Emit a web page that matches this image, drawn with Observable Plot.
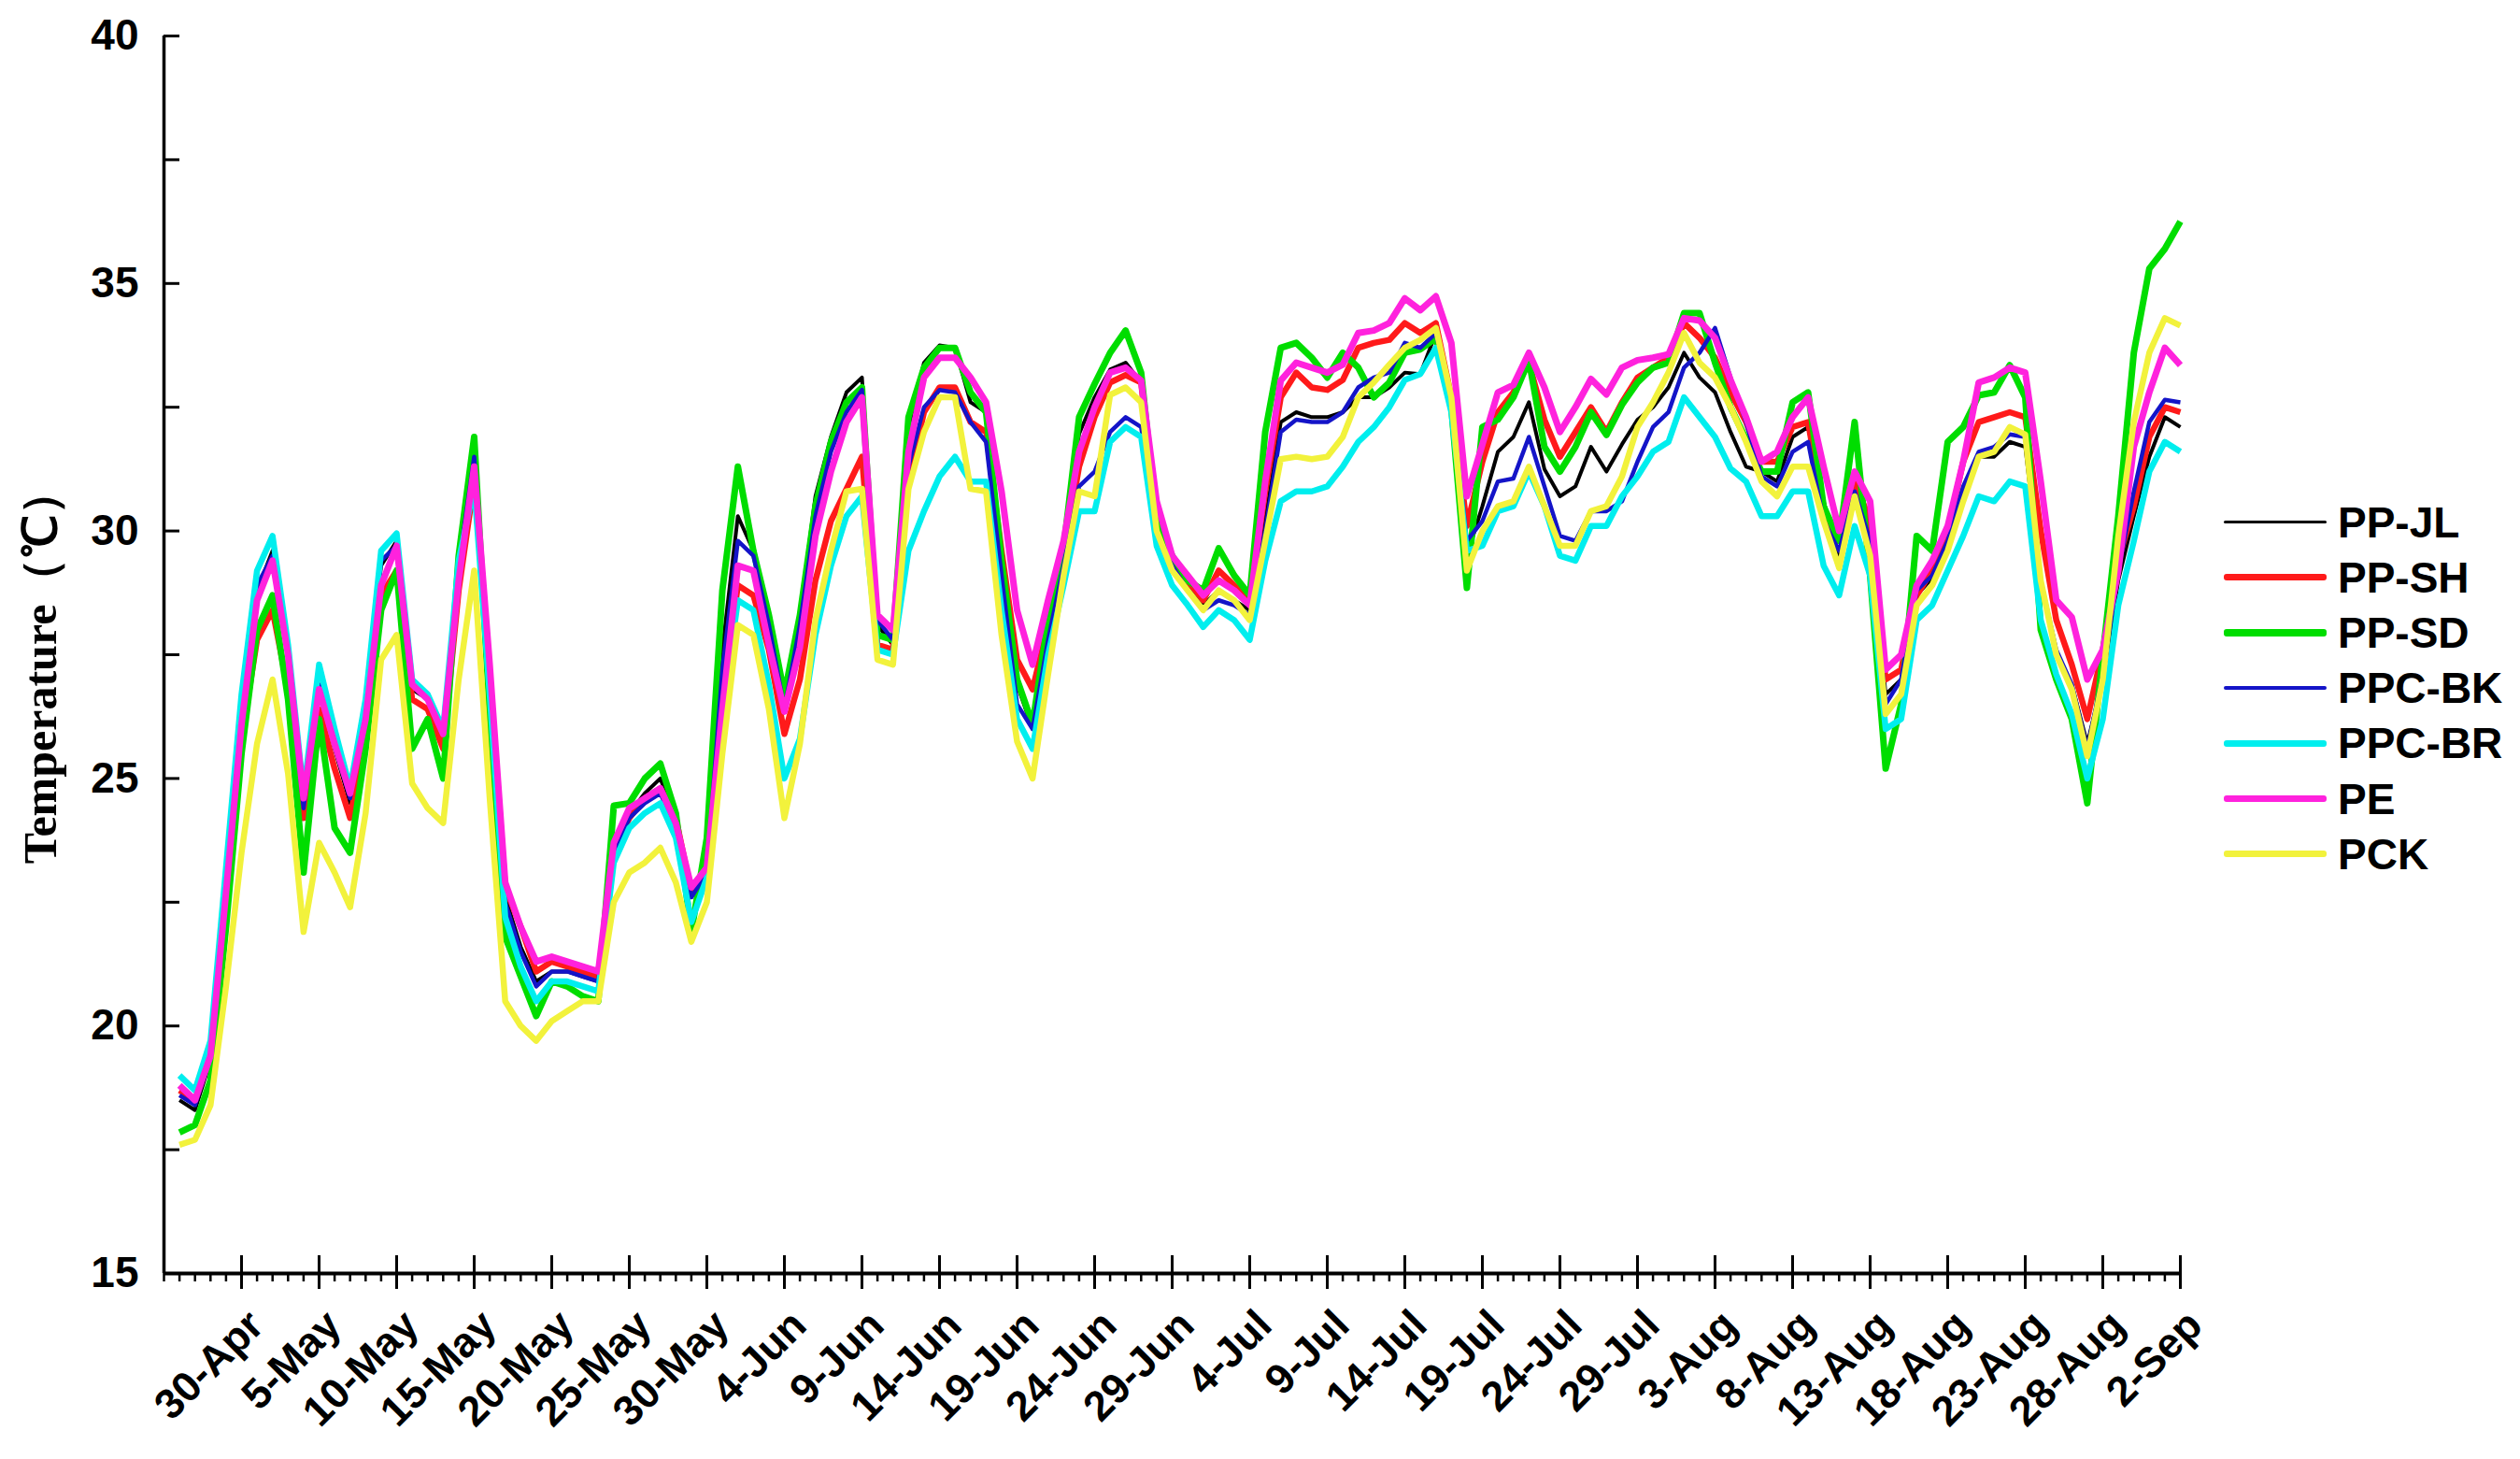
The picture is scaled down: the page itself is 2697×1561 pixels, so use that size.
<!DOCTYPE html>
<html>
<head>
<meta charset="utf-8">
<script src="https://cdn.jsdelivr.net/npm/d3@7"></script>
<script src="https://cdn.jsdelivr.net/npm/@observablehq/plot@0.6"></script>
<style>
  html, body { margin: 0; padding: 0; background: #fff; }
  #wrap { position: relative; width: 2697px; height: 1561px; overflow: hidden; background: #fff; }
  #legend { position: absolute; left: 2380px; top: 529px; font-family: "Liberation Sans", Arial, sans-serif; font-weight: bold; font-size: 46px; color: #000; }
  .row { display: flex; align-items: center; height: 59.2px; }
  .sw { width: 110px; margin-right: 12px; border-radius: 3px; }
</style>
</head>
<body>
<div id="wrap"><div id="legend"></div></div>
<script>
// ---------- data ----------
const seriesNames = ["PP-JL", "PP-SH", "PP-SD", "PPC-BK", "PPC-BR", "PE", "PCK"];
const firstDataDay = "26-Apr";
const xTickLabels = ["30-Apr","5-May","10-May","15-May","20-May","25-May","30-May","4-Jun","9-Jun","14-Jun","19-Jun","24-Jun","29-Jun","4-Jul","9-Jul","14-Jul","19-Jul","24-Jul","29-Jul","3-Aug","8-Aug","13-Aug","18-Aug","23-Aug","28-Aug","2-Sep"];
const yTickValues = [15, 20, 25, 30, 35, 40];
const yMinorTickValues = [15, 17.5, 20, 22.5, 25, 27.5, 30, 32.5, 35, 37.5, 40];

const ppJL = [
18.5,18.3,19.3,22.8,26.2,28.8,29.6,27.6,24.3,26.8,
25.6,24.5,26.3,29.3,29.8,26.8,26.6,25.8,29.2,31.4,
27.0,22.6,21.6,20.9,21.1,21.1,21.0,20.9,23.6,24.3,
24.7,25.0,24.2,22.6,23.2,27.6,30.3,29.6,28.3,26.6,
28.3,30.7,31.9,32.8,33.1,28.1,27.7,32.1,33.4,33.75,
33.7,32.6,32.4,29.5,26.9,26.0,28.0,29.65,31.96,32.7,
33.26,33.4,33.0,30.0,29.35,28.9,28.5,28.8,28.6,28.4,
30.2,32.2,32.4,32.3,32.3,32.4,32.7,32.7,32.9,33.2,
33.17,34.0,32.4,29.5,30.5,31.6,31.9,32.6,31.25,30.7,
30.9,31.7,31.2,31.75,32.25,32.5,32.9,33.6,33.1,32.8,
32.0,31.3,31.2,31.0,31.9,32.1,30.6,29.5,30.9,30.0,
26.7,27.0,28.7,29.05,29.7,30.8,31.5,31.5,31.8,31.7,
29.0,27.5,26.9,25.7,27.0,29.0,30.3,31.5,32.3,32.1];

const ppSH = [
18.7,18.5,19.4,22.6,25.8,27.8,28.4,26.8,24.2,26.4,
25.2,24.2,25.9,28.7,29.2,26.6,26.4,25.6,28.8,31.0,
27.1,22.8,22.0,21.1,21.3,21.2,21.1,21.0,23.5,24.2,
24.6,24.8,24.2,22.7,23.2,26.6,28.9,28.7,27.6,25.9,
27.0,29.0,30.2,30.85,31.5,27.7,27.6,31.0,32.4,32.9,
32.9,32.2,32.0,29.6,27.4,26.8,28.1,29.5,31.3,32.3,
33.0,33.15,33.0,30.1,29.4,29.0,28.6,29.2,28.9,28.6,
30.8,32.7,33.2,32.9,32.85,33.05,33.7,33.8,33.86,34.2,
34.0,34.2,32.7,30.1,31.4,32.4,32.8,33.4,32.25,31.5,
32.0,32.5,32.0,32.6,33.1,33.3,33.5,34.2,33.9,33.5,
32.8,32.2,31.4,31.4,32.1,32.2,30.4,29.8,31.0,30.2,
27.0,27.2,28.7,29.2,30.0,31.4,32.2,32.3,32.4,32.3,
30.0,28.2,27.3,26.2,27.6,29.4,30.5,31.9,32.5,32.4];

const ppSD = [
17.85,18.0,18.9,22.0,25.5,28.0,28.7,26.6,23.1,26.2,
24.0,23.5,25.6,28.4,29.2,25.6,26.2,25.0,29.5,31.9,
26.3,21.8,21.0,20.2,20.9,20.8,20.6,20.5,24.45,24.5,
25.0,25.3,24.3,21.9,23.8,28.8,31.3,29.6,28.3,26.7,
28.3,30.5,31.8,32.6,32.9,27.9,27.8,32.3,33.3,33.7,
33.7,32.8,32.4,29.4,27.0,26.1,28.2,29.65,32.3,32.97,
33.6,34.05,33.2,30.2,29.5,29.0,28.8,29.65,29.1,28.7,
32.0,33.7,33.8,33.5,33.1,33.6,33.3,32.7,33.0,33.6,
33.67,33.9,32.5,28.85,32.1,32.25,32.7,33.45,31.7,31.2,
31.7,32.4,31.94,32.55,33.0,33.3,33.4,34.4,34.4,33.4,
32.5,31.85,31.2,31.2,32.6,32.8,30.5,29.8,32.2,29.1,
25.2,26.5,29.9,29.6,31.8,32.1,32.74,32.8,33.35,32.7,
28.0,27.0,26.2,24.5,27.5,30.3,33.6,35.3,35.7,36.25];

const ppcBK = [
18.6,18.4,19.4,22.9,26.3,28.9,29.5,27.5,24.4,26.9,
25.7,24.6,26.4,29.4,29.7,26.9,26.6,25.9,29.3,31.5,
27.0,22.5,21.5,20.8,21.1,21.1,21.0,20.9,23.5,24.2,
24.5,24.7,24.0,22.6,23.1,27.2,29.8,29.5,28.1,26.4,
28.1,30.3,31.6,32.4,32.85,28.2,27.8,31.3,32.5,32.85,
32.8,32.2,31.8,29.1,26.5,26.0,27.8,29.3,30.9,31.2,
32.0,32.3,32.1,30.0,29.3,28.8,28.4,28.6,28.5,28.3,
30.0,32.0,32.25,32.2,32.2,32.4,32.9,33.1,33.2,33.8,
33.7,34.0,32.6,29.8,30.2,31.0,31.06,31.9,30.9,29.9,
29.8,30.4,30.4,30.6,31.4,32.1,32.4,33.3,33.6,34.1,
33.1,32.2,31.1,30.9,31.6,31.8,30.2,29.6,30.8,29.8,
26.5,27.0,28.8,29.1,29.8,30.9,31.6,31.7,31.95,31.9,
29.0,27.6,26.9,25.6,27.1,29.2,30.8,32.2,32.65,32.6];

const ppcBR = [
19.0,18.7,19.7,23.2,26.7,29.2,29.9,27.7,24.7,27.3,
26.0,24.8,26.6,29.6,29.95,27.0,26.7,26.0,29.4,30.9,
26.7,22.2,21.2,20.5,20.9,20.9,20.8,20.7,23.3,24.0,
24.3,24.5,23.8,22.1,23.0,26.3,28.6,28.4,26.9,25.0,
25.8,27.9,29.3,30.3,30.7,27.6,27.5,29.6,30.4,31.1,
31.5,31.0,31.0,28.4,26.2,25.6,27.5,28.9,30.4,30.4,
31.8,32.1,31.9,29.7,28.9,28.5,28.06,28.4,28.2,27.8,
29.4,30.6,30.8,30.8,30.9,31.3,31.8,32.1,32.5,33.05,
33.17,33.7,32.4,29.6,29.7,30.4,30.5,31.2,30.5,29.5,
29.4,30.1,30.1,30.7,31.1,31.6,31.8,32.7,32.3,31.9,
31.26,31.0,30.3,30.3,30.8,30.8,29.3,28.7,30.1,29.1,
26.0,26.2,28.2,28.5,29.2,29.9,30.7,30.6,31.0,30.9,
28.2,27.1,26.3,25.0,26.2,28.5,29.8,31.2,31.8,31.6];

const pe = [
18.8,18.5,19.4,22.7,26.1,28.6,29.4,27.5,24.6,26.8,
25.7,24.7,26.2,28.9,29.7,26.9,26.6,25.9,29.0,31.3,
27.3,22.9,22.0,21.3,21.4,21.3,21.2,21.1,23.7,24.4,
24.6,24.8,24.1,22.8,23.2,26.4,29.3,29.2,27.7,26.35,
27.65,29.9,31.2,32.2,32.7,28.3,28.0,31.6,33.1,33.5,
33.5,33.1,32.6,30.8,28.4,27.3,28.6,29.8,31.6,32.5,
33.2,33.3,33.04,30.6,29.5,29.1,28.7,29.0,28.8,28.5,
31.0,33.04,33.4,33.3,33.2,33.36,34.0,34.05,34.2,34.7,
34.46,34.74,33.8,30.7,31.75,32.8,32.95,33.6,32.9,32.0,
32.5,33.07,32.76,33.3,33.45,33.5,33.57,34.3,34.25,33.9,
33.05,32.3,31.4,31.6,32.3,32.7,31.3,30.0,31.2,30.6,
27.2,27.5,28.9,29.4,30.1,31.4,33.0,33.1,33.3,33.2,
31.0,28.6,28.26,27.0,27.6,29.2,31.7,32.8,33.7,33.35];

const pck = [
17.6,17.7,18.4,20.8,23.5,25.7,27.0,25.1,21.9,23.7,
23.1,22.4,24.3,27.4,27.9,24.9,24.4,24.1,27.0,29.2,
24.6,20.5,20.0,19.7,20.1,20.3,20.5,20.5,22.5,23.1,
23.3,23.6,22.9,21.7,22.5,25.5,28.1,27.9,26.4,24.2,
25.7,28.2,29.6,30.8,30.85,27.4,27.3,30.85,32.0,32.7,
32.7,30.85,30.8,27.9,25.75,25.0,27.1,29.1,30.8,30.7,
32.75,32.9,32.6,30.0,29.2,28.8,28.4,28.8,28.6,28.2,
29.8,31.45,31.5,31.45,31.5,31.9,32.7,33.0,33.36,33.7,
33.86,34.1,32.7,29.2,30.0,30.5,30.6,31.3,30.5,29.7,
29.7,30.4,30.5,31.1,32.1,32.6,33.2,34.0,33.4,33.1,
32.5,31.8,31.0,30.7,31.3,31.3,30.2,29.25,30.7,29.5,
26.3,26.7,28.5,28.9,29.6,30.6,31.5,31.6,32.1,31.95,
29.0,27.5,26.8,25.45,27.0,29.9,32.2,33.6,34.3,34.15];

// ---------- styling ----------
const seriesValues = [ppJL, ppSH, ppSD, ppcBK, ppcBR, pe, pck];
const seriesColors = ["#000000", "#ff1a1a", "#00dd00", "#1414c8", "#00eeee", "#ff22dd", "#f2f23c"];
const lineWidths = [4, 6.5, 7, 4.5, 6.5, 7, 6.5];
const legendWidths = [3.5, 7, 8, 4.5, 6.5, 7, 7];

const parseDay = s => d3.utcParse("%d-%b-%Y")(s + "-2019");
const majorTicks = xTickLabels.map(parseDay);
const axisStart = d3.utcDay.offset(majorTicks[0], -5);
const axisEnd = majorTicks[majorTicks.length - 1];
const dayTicks = d3.utcDay.range(axisStart, d3.utcDay.offset(axisEnd, 1));
const start = parseDay(firstDataDay);

const tables = seriesValues.map((vals, s) =>
  vals.map((v, i) => ({series: seriesNames[s], date: d3.utcDay.offset(start, i), value: v})));

const font = '"Liberation Sans", Arial, sans-serif';

const chart = Plot.plot({
  width: 2697,
  height: 1561,
  marginLeft: 175,
  marginRight: 364,
  marginTop: 38,
  marginBottom: 199,
  x: {type: "utc", domain: [axisStart, axisEnd]},
  y: {domain: [15, 40]},
  style: {background: "white", fontFamily: font, fontWeight: "bold", fontSize: "44px", color: "#000", overflow: "visible"},
  marks: [
    Plot.axisY({ticks: yTickValues, tickSize: 0, tickPadding: 27, label: null, fontSize: 46, fontWeight: "bold"}),
    Plot.axisY({ticks: yMinorTickValues, tickSize: 17, dx: 17, tickFormat: () => "", label: null, strokeWidth: 3}),
    Plot.axisX({ticks: dayTicks, tickSize: 9, tickFormat: () => "", label: null, strokeWidth: 2.5}),
    Plot.axisX({ticks: majorTicks, tickSize: 36, dy: -19, tickFormat: () => "", label: null, strokeWidth: 3}),
    Plot.text(majorTicks, {x: d => d, text: (d, i) => xTickLabels[i], frameAnchor: "bottom", dx: 26, dy: 58,
      rotate: -45, textAnchor: "end", lineAnchor: "bottom", fontSize: 45, fontWeight: "bold", fill: "#000"}),
    ...tables.map((t, s) => Plot.lineY(t, {x: "date", y: "value", stroke: seriesColors[s], strokeWidth: lineWidths[s],
      strokeLinejoin: "round", strokeLinecap: "butt"})),
    Plot.ruleX([axisStart], {stroke: "#000", strokeWidth: 3.5}),
    Plot.ruleY([15], {stroke: "#000", strokeWidth: 4}),
    Plot.text(["Temperature（℃）"], {frameAnchor: "left", dx: -132, dy: 12, rotate: -90, textAnchor: "middle",
      lineAnchor: "middle", fontFamily: '"Liberation Serif", "Times New Roman", serif', fontSize: 50, fontWeight: "bold", fill: "#000"})
  ]
});
document.getElementById("wrap").prepend(chart);

const legend = document.getElementById("legend");
seriesNames.forEach((name, s) => {
  const row = document.createElement("div");
  row.className = "row";
  const sw = document.createElement("div");
  sw.className = "sw";
  sw.style.height = legendWidths[s] + "px";
  sw.style.background = seriesColors[s];
  const label = document.createElement("span");
  label.textContent = name;
  row.appendChild(sw);
  row.appendChild(label);
  legend.appendChild(row);
});
</script>
</body>
</html>
